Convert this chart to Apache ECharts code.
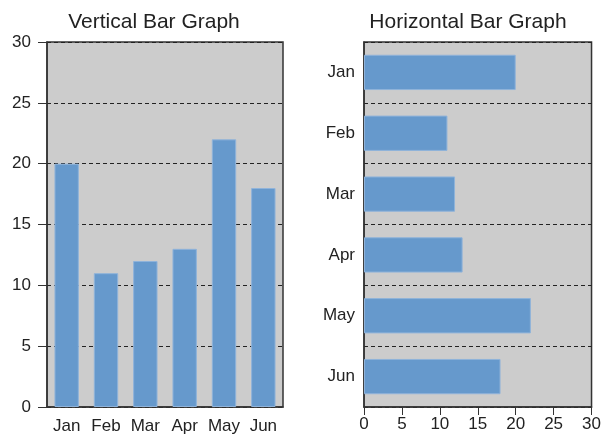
<!DOCTYPE html>
<html><head><meta charset="utf-8">
<script src="https://cdn.jsdelivr.net/npm/echarts@6/dist/echarts.min.js"></script>
<style>html,body{margin:0;padding:0;background:#fff;}#c{width:604px;height:438px;}</style>
</head><body><div id="c"></div>
<script>
var categories = ['Jan','Feb','Mar','Apr','May','Jun'];
var values = [20, 11, 12, 13, 22, 18];
var valueTicks = [0, 5, 10, 15, 20, 25, 30];
var titles = ['Vertical Bar Graph', 'Horizontal Bar Graph'];

var font = 'Liberation Sans, Arial, sans-serif';
var dash = [4, 3];
var labelStyle = {fontFamily: font, fontSize: 17, color: '#222'};
var chart = echarts.init(document.getElementById('c'));
chart.setOption({
  animation: false,
  backgroundColor: '#ffffff',
  title: [
    {text: titles[0], left: 149, top: 7, textAlign: 'center', textStyle: {fontFamily: font, fontSize: 21, fontWeight: 'normal', color: '#222'}},
    {text: titles[1], left: 463, top: 7, textAlign: 'center', textStyle: {fontFamily: font, fontSize: 21, fontWeight: 'normal', color: '#222'}}
  ],
  grid: [
    {left: 47, top: 42, width: 236, height: 365, show: true, backgroundColor: '#cccccc', borderColor: '#333', borderWidth: 1.5},
    {left: 364, top: 42, width: 232, height: 365, show: true, backgroundColor: '#cccccc', borderColor: '#333', borderWidth: 1.5}
  ],
  xAxis: [
    {type: 'category', gridIndex: 0, data: categories,
     axisLine: {lineStyle: {color: '#333', width: 1.5}}, axisTick: {show: false},
     axisLabel: Object.assign({margin: 11, interval: 0, hideOverlap: false}, labelStyle), splitLine: {show: false}},
    {type: 'value', gridIndex: 1, min: valueTicks[0], max: valueTicks[valueTicks.length-1], interval: 5,
     axisLine: {show: true, lineStyle: {color: '#333', width: 1.5}}, axisTick: {show: true, length: 8, lineStyle: {color: '#333'}},
     axisLabel: Object.assign({margin: 9}, labelStyle), splitLine: {show: false}}
  ],
  yAxis: [
    {type: 'value', gridIndex: 0, min: valueTicks[0], max: valueTicks[valueTicks.length-1], interval: 5,
     axisLine: {show: true, lineStyle: {color: '#333', width: 1.5}}, axisTick: {show: true, length: 9, lineStyle: {color: '#333'}},
     axisLabel: Object.assign({margin: 16}, labelStyle),
     splitLine: {show: true, lineStyle: {type: dash, color: '#222', width: 1}}},
    {type: 'category', gridIndex: 1, data: categories, inverse: true,
     axisLine: {show: true, lineStyle: {color: '#333', width: 1.5}}, axisTick: {show: false},
     axisLabel: Object.assign({margin: 9, interval: 0}, labelStyle),
     splitLine: {show: true, lineStyle: {type: dash, color: '#222', width: 1}}}
  ],
  series: [
    {type: 'bar', xAxisIndex: 0, yAxisIndex: 0, data: values, barWidth: '62%',
     itemStyle: {color: '#6699cc', borderColor: '#8fb3da', borderWidth: 1}},
    {type: 'bar', xAxisIndex: 1, yAxisIndex: 1, data: values, barWidth: '58%',
     itemStyle: {color: '#6699cc', borderColor: '#8fb3da', borderWidth: 1}}
  ]
});
</script></body></html>
